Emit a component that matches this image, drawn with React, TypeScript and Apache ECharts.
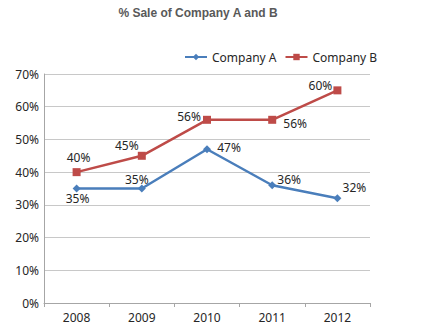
import React, { useEffect, useRef } from "react";
import * as echarts from "echarts";

const years = ["2008", "2009", "2010", "2011", "2012"];
const companyA = [35, 35, 47, 36, 32];
const companyB = [40, 45, 56, 56, 65];
const labelsA = ["35%", "35%", "47%", "36%", "32%"];
const labelsB = ["40%", "45%", "56%", "56%", "60%"];
const offsetsA = [[1, 10], [-5, -9], [22, -2], [17, -6], [17, -11]];
const offsetsB = [[2, -15], [-15, -10], [-18, -3], [23, 4], [-17, -5]];

const FONT = "'Noto Sans', sans-serif";

export default function App() {
  const ref = useRef<HTMLDivElement>(null);
  useEffect(() => {
    const chart = echarts.init(ref.current!, null, { renderer: "svg" });
    const mk = (vals: number[], labels: string[], offs: number[][]) =>
      vals.map((v, i) => ({
        value: v,
        label: {
          show: true,
          position: "inside",
          offset: offs[i],
          formatter: labels[i],
          color: "#262626",
          fontSize: 12,
          fontFamily: FONT,
        },
      }));
    chart.setOption({
      animation: false,
      backgroundColor: "#ffffff",
      title: {
        text: "% Sale of Company A and B",
        left: 193,
        textAlign: "center",
        top: 2,
        textStyle: { fontSize: 12, fontWeight: "bold", color: "#595959", fontFamily: "'Liberation Sans', sans-serif" },
      },
      legend: {
        left: 179,
        top: 46,
        itemWidth: 22,
        itemHeight: 8,
        itemGap: 8,
        textStyle: { fontSize: 12, color: "#262626", fontFamily: FONT },
        data: ["Company A", "Company B"],
      },
      grid: { left: 44, right: 59, top: 74, bottom: 32, containLabel: false },
      xAxis: {
        type: "category",
        data: years,
        boundaryGap: true,
        axisLine: { lineStyle: { color: "#a6a6a6" } },
        axisTick: { show: true, length: 4, lineStyle: { color: "#a6a6a6" } },
        axisLabel: { color: "#262626", fontSize: 12, fontFamily: FONT, margin: 8 },
      },
      yAxis: {
        type: "value",
        min: 0,
        max: 70,
        interval: 10,
        axisLine: { show: true, lineStyle: { color: "#a6a6a6" } },
        axisTick: { show: false },
        axisLabel: { color: "#262626", fontSize: 12, fontFamily: FONT, margin: 5, formatter: "{value}%" },
        splitLine: { lineStyle: { color: "#c8c8c8", width: 1 } },
      },
      series: [
        {
          name: "Company A",
          type: "line",
          data: mk(companyA, labelsA, offsetsA),
          symbol: "diamond",
          symbolSize: 8,
          itemStyle: { color: "#4a7ebb" },
          lineStyle: { color: "#4a7ebb", width: 2.5 },
        },
        {
          name: "Company B",
          type: "line",
          data: mk(companyB, labelsB, offsetsB),
          symbol: "rect",
          symbolSize: 8,
          itemStyle: { color: "#be4b48" },
          lineStyle: { color: "#be4b48", width: 2.5 },
        },
      ],
    });
    return () => chart.dispose();
  }, []);
  return <div ref={ref} style={{ width: 429, height: 335, position: "absolute", left: 0, top: 0 }} />;
}
